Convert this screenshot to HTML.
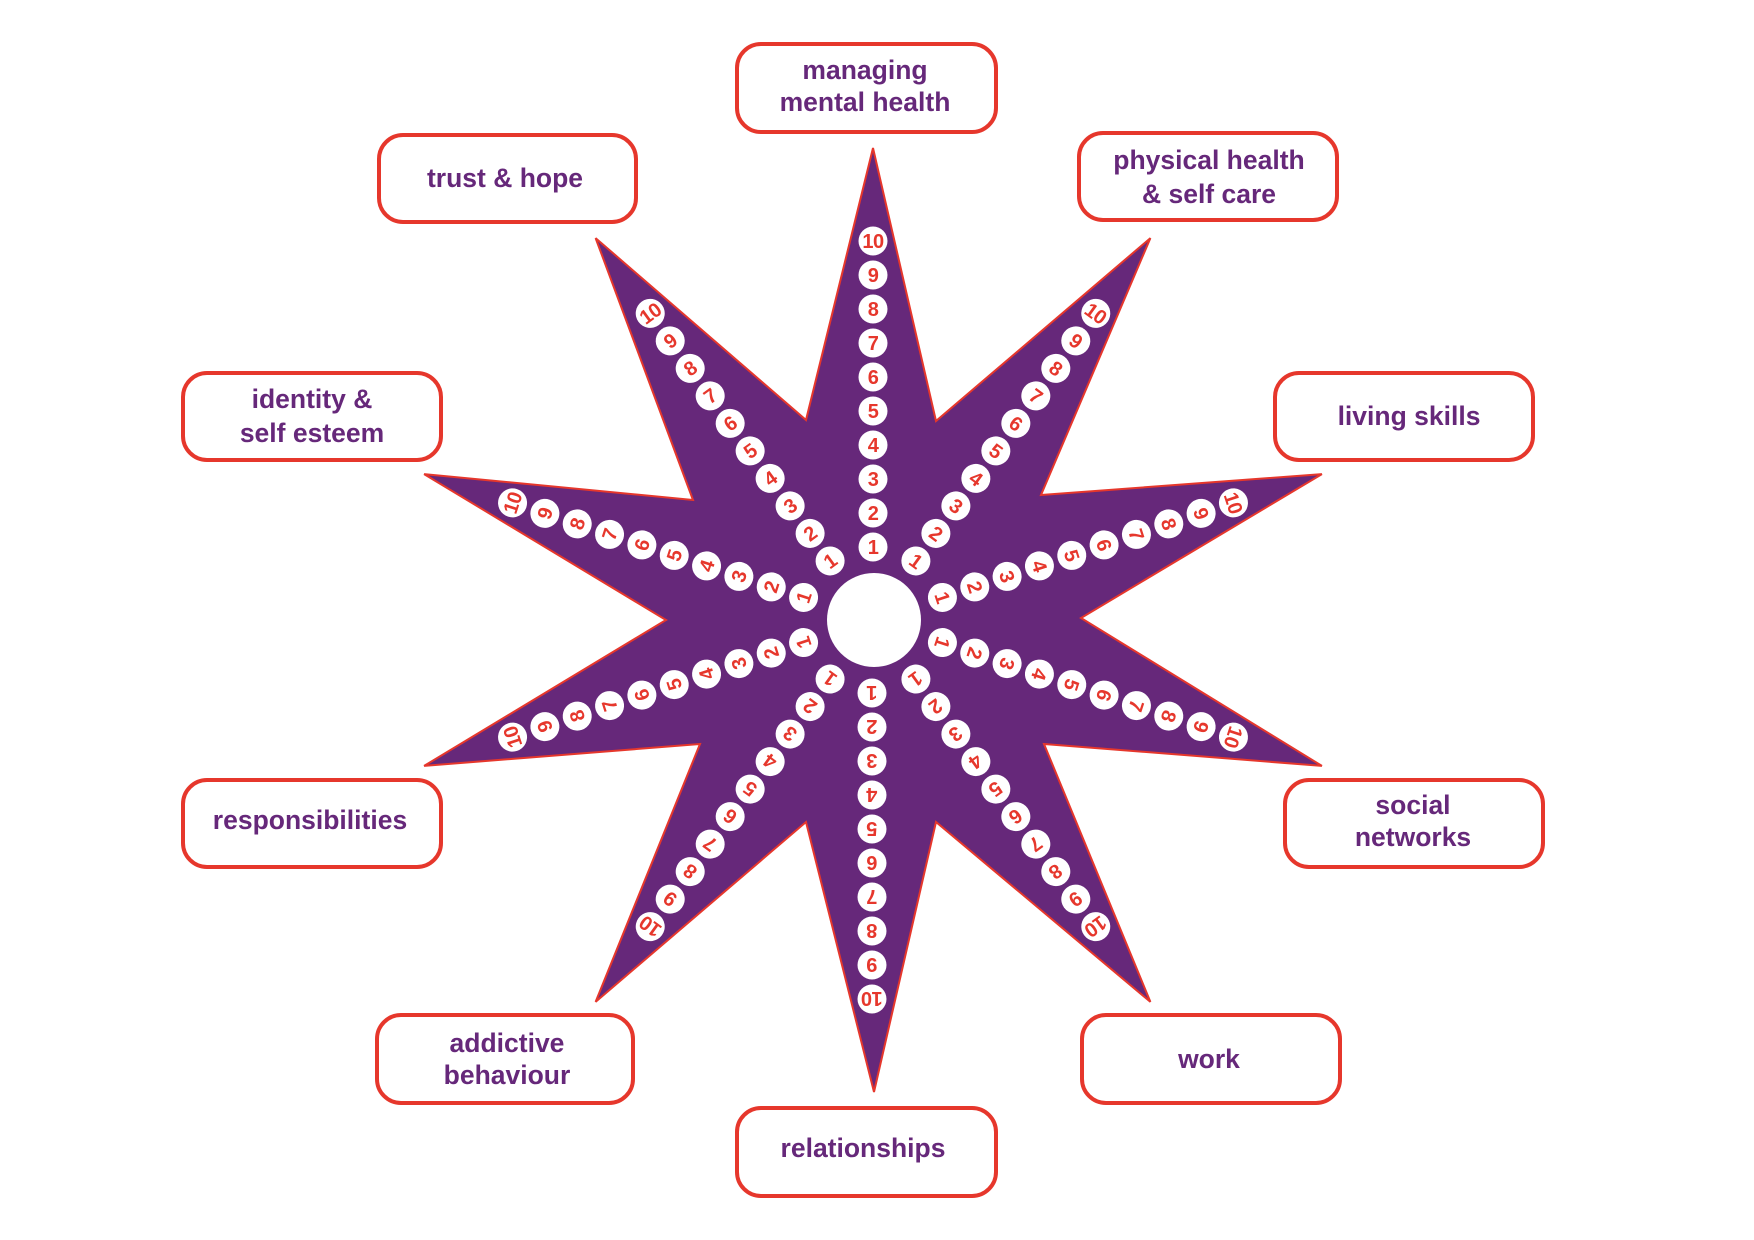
<!DOCTYPE html>
<html>
<head>
<meta charset="utf-8">
<style>
  html, body { margin: 0; padding: 0; background: #ffffff; }
  body { width: 1754px; height: 1240px; overflow: hidden; }
  svg { display: block; }
  .box { fill: #ffffff; stroke: #e6372c; stroke-width: 4; }
  .lbl { font-family: "Liberation Sans", "DejaVu Sans", sans-serif; font-weight: bold; font-size: 26.5px; fill: #66287a; text-anchor: middle; }
  .nc { fill: #ffffff; }
  .nt { font-family: "Liberation Sans", "DejaVu Sans", sans-serif; font-weight: bold; font-size: 20px; fill: #e6372c; text-anchor: middle; letter-spacing: -0.5px; }
</style>
</head>
<body>
<svg width="1754" height="1240" viewBox="0 0 1754 1240" xmlns="http://www.w3.org/2000/svg">
  <!-- Star -->
  <polygon fill="#66287a" stroke="#e6372c" stroke-width="2" stroke-linejoin="miter"
    points="873,148 936,421 1150.4,238.1 1041,495 1321.9,474.1 1081,618 1321.9,765.9 1044,744 1150.4,1001.9 936,822 874,1092 806,822 595.6,1001.9 700,744 424.1,765.9 666,620 424.1,474.1 693,500 595.6,238.1 806,420"/>
  <circle cx="874" cy="620" r="47" fill="#ffffff"/>

  <!-- Arm 0 (top) -->
  <g transform="translate(873 620) rotate(0)">
    <circle class="nc" cx="0" cy="-73" r="14.5"/><text class="nt" x="0" y="-66">1</text>
    <circle class="nc" cx="0" cy="-107" r="14.5"/><text class="nt" x="0" y="-100">2</text>
    <circle class="nc" cx="0" cy="-141" r="14.5"/><text class="nt" x="0" y="-134">3</text>
    <circle class="nc" cx="0" cy="-175" r="14.5"/><text class="nt" x="0" y="-168">4</text>
    <circle class="nc" cx="0" cy="-209" r="14.5"/><text class="nt" x="0" y="-202">5</text>
    <circle class="nc" cx="0" cy="-243" r="14.5"/><text class="nt" x="0" y="-236">6</text>
    <circle class="nc" cx="0" cy="-277" r="14.5"/><text class="nt" x="0" y="-270">7</text>
    <circle class="nc" cx="0" cy="-311" r="14.5"/><text class="nt" x="0" y="-304">8</text>
    <circle class="nc" cx="0" cy="-345" r="14.5"/><text class="nt" x="0" y="-338">9</text>
    <circle class="nc" cx="0" cy="-379" r="14.5"/><text class="nt" x="0" y="-372">10</text>
  </g>
  <!-- Arm 36 -->
  <g transform="translate(873 620) rotate(36)">
    <circle class="nc" cx="0" cy="-73" r="14.5"/><text class="nt" x="0" y="-66">1</text>
    <circle class="nc" cx="0" cy="-107" r="14.5"/><text class="nt" x="0" y="-100">2</text>
    <circle class="nc" cx="0" cy="-141" r="14.5"/><text class="nt" x="0" y="-134">3</text>
    <circle class="nc" cx="0" cy="-175" r="14.5"/><text class="nt" x="0" y="-168">4</text>
    <circle class="nc" cx="0" cy="-209" r="14.5"/><text class="nt" x="0" y="-202">5</text>
    <circle class="nc" cx="0" cy="-243" r="14.5"/><text class="nt" x="0" y="-236">6</text>
    <circle class="nc" cx="0" cy="-277" r="14.5"/><text class="nt" x="0" y="-270">7</text>
    <circle class="nc" cx="0" cy="-311" r="14.5"/><text class="nt" x="0" y="-304">8</text>
    <circle class="nc" cx="0" cy="-345" r="14.5"/><text class="nt" x="0" y="-338">9</text>
    <circle class="nc" cx="0" cy="-379" r="14.5"/><text class="nt" x="0" y="-372">10</text>
  </g>
  <!-- Arm 72 -->
  <g transform="translate(873 620) rotate(72)">
    <circle class="nc" cx="0" cy="-73" r="14.5"/><text class="nt" x="0" y="-66">1</text>
    <circle class="nc" cx="0" cy="-107" r="14.5"/><text class="nt" x="0" y="-100">2</text>
    <circle class="nc" cx="0" cy="-141" r="14.5"/><text class="nt" x="0" y="-134">3</text>
    <circle class="nc" cx="0" cy="-175" r="14.5"/><text class="nt" x="0" y="-168">4</text>
    <circle class="nc" cx="0" cy="-209" r="14.5"/><text class="nt" x="0" y="-202">5</text>
    <circle class="nc" cx="0" cy="-243" r="14.5"/><text class="nt" x="0" y="-236">6</text>
    <circle class="nc" cx="0" cy="-277" r="14.5"/><text class="nt" x="0" y="-270">7</text>
    <circle class="nc" cx="0" cy="-311" r="14.5"/><text class="nt" x="0" y="-304">8</text>
    <circle class="nc" cx="0" cy="-345" r="14.5"/><text class="nt" x="0" y="-338">9</text>
    <circle class="nc" cx="0" cy="-379" r="14.5"/><text class="nt" x="0" y="-372">10</text>
  </g>
  <!-- Arm 108 -->
  <g transform="translate(873 620) rotate(108)">
    <circle class="nc" cx="0" cy="-73" r="14.5"/><text class="nt" x="0" y="-66">1</text>
    <circle class="nc" cx="0" cy="-107" r="14.5"/><text class="nt" x="0" y="-100">2</text>
    <circle class="nc" cx="0" cy="-141" r="14.5"/><text class="nt" x="0" y="-134">3</text>
    <circle class="nc" cx="0" cy="-175" r="14.5"/><text class="nt" x="0" y="-168">4</text>
    <circle class="nc" cx="0" cy="-209" r="14.5"/><text class="nt" x="0" y="-202">5</text>
    <circle class="nc" cx="0" cy="-243" r="14.5"/><text class="nt" x="0" y="-236">6</text>
    <circle class="nc" cx="0" cy="-277" r="14.5"/><text class="nt" x="0" y="-270">7</text>
    <circle class="nc" cx="0" cy="-311" r="14.5"/><text class="nt" x="0" y="-304">8</text>
    <circle class="nc" cx="0" cy="-345" r="14.5"/><text class="nt" x="0" y="-338">9</text>
    <circle class="nc" cx="0" cy="-379" r="14.5"/><text class="nt" x="0" y="-372">10</text>
  </g>
  <!-- Arm 144 -->
  <g transform="translate(873 620) rotate(144)">
    <circle class="nc" cx="0" cy="-73" r="14.5"/><text class="nt" x="0" y="-66">1</text>
    <circle class="nc" cx="0" cy="-107" r="14.5"/><text class="nt" x="0" y="-100">2</text>
    <circle class="nc" cx="0" cy="-141" r="14.5"/><text class="nt" x="0" y="-134">3</text>
    <circle class="nc" cx="0" cy="-175" r="14.5"/><text class="nt" x="0" y="-168">4</text>
    <circle class="nc" cx="0" cy="-209" r="14.5"/><text class="nt" x="0" y="-202">5</text>
    <circle class="nc" cx="0" cy="-243" r="14.5"/><text class="nt" x="0" y="-236">6</text>
    <circle class="nc" cx="0" cy="-277" r="14.5"/><text class="nt" x="0" y="-270">7</text>
    <circle class="nc" cx="0" cy="-311" r="14.5"/><text class="nt" x="0" y="-304">8</text>
    <circle class="nc" cx="0" cy="-345" r="14.5"/><text class="nt" x="0" y="-338">9</text>
    <circle class="nc" cx="0" cy="-379" r="14.5"/><text class="nt" x="0" y="-372">10</text>
  </g>
  <!-- Arm 180 -->
  <g transform="translate(872 620) rotate(180)">
    <circle class="nc" cx="0" cy="-73" r="14.5"/><text class="nt" x="0" y="-66">1</text>
    <circle class="nc" cx="0" cy="-107" r="14.5"/><text class="nt" x="0" y="-100">2</text>
    <circle class="nc" cx="0" cy="-141" r="14.5"/><text class="nt" x="0" y="-134">3</text>
    <circle class="nc" cx="0" cy="-175" r="14.5"/><text class="nt" x="0" y="-168">4</text>
    <circle class="nc" cx="0" cy="-209" r="14.5"/><text class="nt" x="0" y="-202">5</text>
    <circle class="nc" cx="0" cy="-243" r="14.5"/><text class="nt" x="0" y="-236">6</text>
    <circle class="nc" cx="0" cy="-277" r="14.5"/><text class="nt" x="0" y="-270">7</text>
    <circle class="nc" cx="0" cy="-311" r="14.5"/><text class="nt" x="0" y="-304">8</text>
    <circle class="nc" cx="0" cy="-345" r="14.5"/><text class="nt" x="0" y="-338">9</text>
    <circle class="nc" cx="0" cy="-379" r="14.5"/><text class="nt" x="0" y="-372">10</text>
  </g>
  <!-- Arm 216 -->
  <g transform="translate(873 620) rotate(216)">
    <circle class="nc" cx="0" cy="-73" r="14.5"/><text class="nt" x="0" y="-66">1</text>
    <circle class="nc" cx="0" cy="-107" r="14.5"/><text class="nt" x="0" y="-100">2</text>
    <circle class="nc" cx="0" cy="-141" r="14.5"/><text class="nt" x="0" y="-134">3</text>
    <circle class="nc" cx="0" cy="-175" r="14.5"/><text class="nt" x="0" y="-168">4</text>
    <circle class="nc" cx="0" cy="-209" r="14.5"/><text class="nt" x="0" y="-202">5</text>
    <circle class="nc" cx="0" cy="-243" r="14.5"/><text class="nt" x="0" y="-236">6</text>
    <circle class="nc" cx="0" cy="-277" r="14.5"/><text class="nt" x="0" y="-270">7</text>
    <circle class="nc" cx="0" cy="-311" r="14.5"/><text class="nt" x="0" y="-304">8</text>
    <circle class="nc" cx="0" cy="-345" r="14.5"/><text class="nt" x="0" y="-338">9</text>
    <circle class="nc" cx="0" cy="-379" r="14.5"/><text class="nt" x="0" y="-372">10</text>
  </g>
  <!-- Arm 252 -->
  <g transform="translate(873 620) rotate(252)">
    <circle class="nc" cx="0" cy="-73" r="14.5"/><text class="nt" x="0" y="-66">1</text>
    <circle class="nc" cx="0" cy="-107" r="14.5"/><text class="nt" x="0" y="-100">2</text>
    <circle class="nc" cx="0" cy="-141" r="14.5"/><text class="nt" x="0" y="-134">3</text>
    <circle class="nc" cx="0" cy="-175" r="14.5"/><text class="nt" x="0" y="-168">4</text>
    <circle class="nc" cx="0" cy="-209" r="14.5"/><text class="nt" x="0" y="-202">5</text>
    <circle class="nc" cx="0" cy="-243" r="14.5"/><text class="nt" x="0" y="-236">6</text>
    <circle class="nc" cx="0" cy="-277" r="14.5"/><text class="nt" x="0" y="-270">7</text>
    <circle class="nc" cx="0" cy="-311" r="14.5"/><text class="nt" x="0" y="-304">8</text>
    <circle class="nc" cx="0" cy="-345" r="14.5"/><text class="nt" x="0" y="-338">9</text>
    <circle class="nc" cx="0" cy="-379" r="14.5"/><text class="nt" x="0" y="-372">10</text>
  </g>
  <!-- Arm 288 -->
  <g transform="translate(873 620) rotate(288)">
    <circle class="nc" cx="0" cy="-73" r="14.5"/><text class="nt" x="0" y="-66">1</text>
    <circle class="nc" cx="0" cy="-107" r="14.5"/><text class="nt" x="0" y="-100">2</text>
    <circle class="nc" cx="0" cy="-141" r="14.5"/><text class="nt" x="0" y="-134">3</text>
    <circle class="nc" cx="0" cy="-175" r="14.5"/><text class="nt" x="0" y="-168">4</text>
    <circle class="nc" cx="0" cy="-209" r="14.5"/><text class="nt" x="0" y="-202">5</text>
    <circle class="nc" cx="0" cy="-243" r="14.5"/><text class="nt" x="0" y="-236">6</text>
    <circle class="nc" cx="0" cy="-277" r="14.5"/><text class="nt" x="0" y="-270">7</text>
    <circle class="nc" cx="0" cy="-311" r="14.5"/><text class="nt" x="0" y="-304">8</text>
    <circle class="nc" cx="0" cy="-345" r="14.5"/><text class="nt" x="0" y="-338">9</text>
    <circle class="nc" cx="0" cy="-379" r="14.5"/><text class="nt" x="0" y="-372">10</text>
  </g>
  <!-- Arm 324 -->
  <g transform="translate(873 620) rotate(324)">
    <circle class="nc" cx="0" cy="-73" r="14.5"/><text class="nt" x="0" y="-66">1</text>
    <circle class="nc" cx="0" cy="-107" r="14.5"/><text class="nt" x="0" y="-100">2</text>
    <circle class="nc" cx="0" cy="-141" r="14.5"/><text class="nt" x="0" y="-134">3</text>
    <circle class="nc" cx="0" cy="-175" r="14.5"/><text class="nt" x="0" y="-168">4</text>
    <circle class="nc" cx="0" cy="-209" r="14.5"/><text class="nt" x="0" y="-202">5</text>
    <circle class="nc" cx="0" cy="-243" r="14.5"/><text class="nt" x="0" y="-236">6</text>
    <circle class="nc" cx="0" cy="-277" r="14.5"/><text class="nt" x="0" y="-270">7</text>
    <circle class="nc" cx="0" cy="-311" r="14.5"/><text class="nt" x="0" y="-304">8</text>
    <circle class="nc" cx="0" cy="-345" r="14.5"/><text class="nt" x="0" y="-338">9</text>
    <circle class="nc" cx="0" cy="-379" r="14.5"/><text class="nt" x="0" y="-372">10</text>
  </g>

  <!-- Boxes -->
  <rect class="box" x="737" y="44" width="259" height="88" rx="24" ry="24"/>
  <text class="lbl" x="865" y="79">managing</text>
  <text class="lbl" x="865" y="111">mental health</text>

  <rect class="box" x="379" y="135" width="257" height="87" rx="24" ry="24"/>
  <text class="lbl" x="505" y="187">trust &amp; hope</text>

  <rect class="box" x="1079" y="133" width="258" height="87" rx="24" ry="24"/>
  <text class="lbl" x="1209" y="169">physical health</text>
  <text class="lbl" x="1209" y="203">&amp; self care</text>

  <rect class="box" x="183" y="373" width="258" height="87" rx="24" ry="24"/>
  <text class="lbl" x="312" y="408">identity &amp;</text>
  <text class="lbl" x="312" y="442">self esteem</text>

  <rect class="box" x="1275" y="373" width="258" height="87" rx="24" ry="24"/>
  <text class="lbl" x="1409" y="425">living skills</text>

  <rect class="box" x="183" y="780" width="258" height="87" rx="24" ry="24"/>
  <text class="lbl" x="310" y="829">responsibilities</text>

  <rect class="box" x="1285" y="780" width="258" height="87" rx="24" ry="24"/>
  <text class="lbl" x="1413" y="814">social</text>
  <text class="lbl" x="1413" y="846">networks</text>

  <rect class="box" x="377" y="1015" width="256" height="88" rx="24" ry="24"/>
  <text class="lbl" x="507" y="1052">addictive</text>
  <text class="lbl" x="507" y="1084">behaviour</text>

  <rect class="box" x="1082" y="1015" width="258" height="88" rx="24" ry="24"/>
  <text class="lbl" x="1209" y="1068">work</text>

  <rect class="box" x="737" y="1108" width="259" height="88" rx="24" ry="24"/>
  <text class="lbl" x="863" y="1157">relationships</text>
</svg>
</body>
</html>
